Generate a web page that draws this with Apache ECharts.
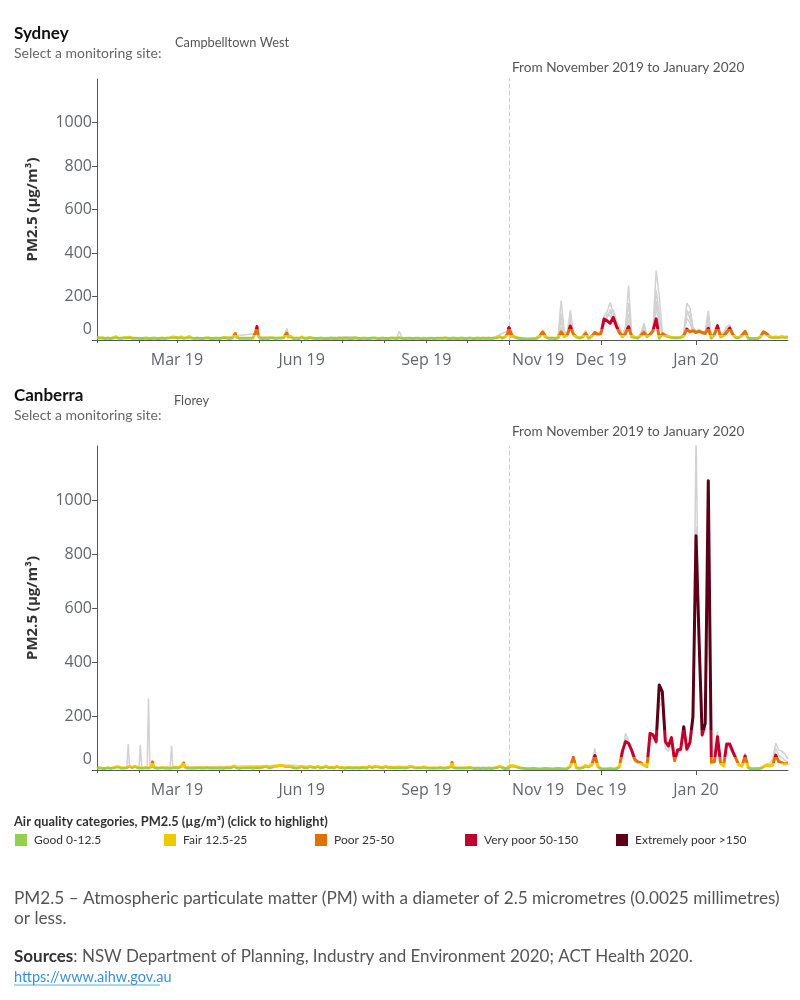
<!DOCTYPE html>
<html>
<head>
<meta charset="utf-8">
<title>PM2.5 Sydney and Canberra</title>
<script src="https://cdn.jsdelivr.net/npm/echarts@6/dist/echarts.min.js"></script>
<style>
  html, body { margin: 0; padding: 0; background: #fff; }
  #chart { width: 800px; height: 1000px; }
</style>
</head>
<body>
<div id="chart"></div>
<script>
// daily PM2.5 (ug/m3), 1 Jan 2019 - 31 Jan 2020
var startDate = '2019-01-01';

var sydneyPM = [
  14,13,9,14,10, 8,7,8,9,8, 7,9,10,11,15, 9,8,7,8,9, 11,15,10,14,13, 9,8,7,8,9, 8,
  8,7,6,7,8, 9,8,7,6,7, 8,9,8,7,6, 7,8,9,8,7, 8,9,10,11,9, 14,15,13,
  11,9,10,14,9, 8,9,11,14,16, 12,9,8,7,8, 9,8,7,6,7, 8,9,13,10,8, 7,6,7,8,9, 8,
  7,8,9,10,12, 15,9,8,7,8, 10,18,30,14,9, 8,7,8,9,8, 7,8,9,8,7, 9,14,35,62,22,
  10,8,7,8,9, 8,7,9,11,15, 9,8,7,8,9, 8,9,10,12,20, 32,14,9,16,8, 7,8,9,8,7, 8,
  14,9,8,7,8, 9,12,15,9,8, 7,6,7,8,9, 8,7,6,7,8, 7,8,9,8,7, 6,7,8,9,8,
  7,8,9,10,8, 7,6,7,8,9, 10,8,7,6,7, 8,9,8,7,6, 7,8,9,10,9, 8,7,6,7,8, 9,
  8,7,6,7,8, 9,10,9,8,7, 8,11,10,8,7, 6,7,8,9,8, 7,6,7,8,9, 8,7,6,7,8, 7,
  6,7,8,9,8, 7,6,7,8,9, 8,7,8,9,10, 8,7,6,7,8, 9,8,7,6,7, 8,9,8,7,8,
  7,8,9,8,7, 6,7,8,9,8, 7,8,9,8,7, 8,9,8,7,8, 9,10,11,12,16, 11,9,10,14,20, 28,
  56,20,14,9,7, 6,5,6,5,8, 18,38,14,8,9, 7,10,38,16,22, 64,26,15,9,14, 30,8,18,35,24,
  30,97,88,77,104, 65,35,15,30,61, 15,12,9,20,35, 15,25,43,97,9, 28,20,15,12,10, 10,11,20,50,38, 43,
  35,40,35,30,54, 9,25,66,15,20, 35,55,25,10,12, 22,40,8,6,7, 6,15,38,30,15, 12,14,12,15,13, 14
];

var canberraPM = [
  6,7,8,7,6, 5,6,7,8,7, 6,7,8,9,11, 15,12,8,7,6, 7,8,9,13,14, 10,9,12,14,13, 9,
  8,7,6,7,8, 9,8,7,9,12, 30,10,8,7,6, 7,14,9,8,7, 9,8,7,6,7, 8,9,10,
  9,8,10,14,12, 26,11,8,7,6, 7,8,7,6,7, 8,9,8,7,6, 7,8,9,8,7, 6,7,8,7,6, 7,
  7,8,7,6,7, 8,9,8,7,8, 10,15,10,8,7, 6,7,8,9,8, 7,8,9,10,8, 7,8,10,15,9,
  8,9,10,12,11, 14,9,8,9,10, 13,15,12,14,16, 18,20,17,15,13, 12,14,16,13,10, 9,8,7,8,9, 10,
  14,9,8,7,8, 12,14,15,10,8, 9,11,14,9,8, 9,10,8,14,13, 9,8,10,11,8, 13,14,12,9,8,
  9,8,7,8,10, 15,9,8,7,8, 9,8,7,8,9, 10,9,8,7,9, 14,10,9,8,13, 14,12,14,10,9, 8,
  13,14,12,9,13, 10,9,8,7,8, 9,10,14,9,8, 7,8,9,12,13, 14,12,9,8,7, 8,9,8,10,11, 14,
  9,8,7,6,7, 8,7,6,7,8, 9,8,7,6,7, 8,9,8,12,28, 10,8,7,6,7, 8,7,6,7,8,
  8,10,9,8,7, 6,5,6,7,6, 5,6,7,6,5, 6,7,6,5,6, 7,8,9,12,14, 15,10,6,5,7, 6,
  12,16,14,10,7, 6,5,5,6,5, 4,5,6,5,4, 5,6,5,4,5, 14,46,8,6,9, 15,12,18,54,12,
  5,4,4,5,4, 5,12,70,105,99, 74,40,30,27,18, 12,136,130,105,315, 290,105,89,120,35, 74,77,160,77,101, 198,
  868,480,130,173,1071, 25,31,123,25,15, 96,96,68,43,18, 15,52,10,4,5, 5,6,12,18,15, 18,55,31,27,22, 25
];

// other monitoring sites (grey), Nov 2019 - Jan 2020
var greyStart = '2019-11-01';
var sydneyOtherA = [
  45,18,12,8,6, 6,5,6,7,10, 22,35,15,9,10, 8,14,181,40,30, 138,30,14,10,18, 45,12,20,40,30,
  40,110,130,173,120, 70,40,20,60,250, 30,15,10,30,77, 20,30,60,319,204, 40,25,20,15,12, 14,16,30,169,150, 60,
  40,50,35,40,135, 20,30,70,25,35, 60,70,30,15,14, 25,45,12,8,9, 8,18,40,30,18, 14,16,14,18,15, 16
];
var sydneyOtherB = [
  30,15,10,7,6, 5,5,6,6,9, 15,30,12,8,9, 7,12,90,30,25, 100,25,12,9,15, 35,10,15,35,25,
  35,90,100,140,90, 60,35,18,45,120, 25,12,9,25,60, 18,25,50,180,90, 35,22,18,13,11, 12,14,25,138,100, 50,
  35,45,30,35,90, 15,25,60,20,30, 50,60,25,12,12, 20,40,10,7,8, 7,15,35,25,15, 12,14,12,15,13, 14
];
var sydneyOtherC = [
  25,12,8,6,5, 4,4,5,5,7, 12,25,10,7,8, 6,10,60,25,20, 80,20,10,8,12, 28,8,12,28,20,
  25,70,120,110,80, 50,28,14,35,90, 18,10,8,20,50, 14,20,45,150,60, 30,18,15,11,9, 10,12,20,100,80, 40,
  30,40,25,30,70, 12,20,50,16,25, 40,50,20,10,10, 16,32,8,6,7, 6,12,30,20,12, 10,12,10,12,11, 12
];
var sydneyOtherD = [
  35,14,10,7,6, 5,5,5,6,8, 14,28,11,8,9, 7,11,120,35,22, 110,22,11,9,14, 38,9,16,30,22,
  30,80,110,120,140, 90,60,25,50,170, 22,12,9,22,65, 16,22,40,230,120, 35,20,16,12,10, 11,13,22,120,130, 45,
  32,42,28,32,110, 14,22,55,18,28, 45,55,22,11,11, 18,36,9,7,8, 7,14,32,22,14, 11,13,11,14,12, 13
];
var canberraOtherA = [
  10,14,12,8,6, 5,5,5,6,5, 4,5,6,5,4, 5,6,5,4,6, 18,40,10,8,12, 20,15,30,80,20,
  6,5,5,6,5, 6,20,60,136,110, 60,30,25,22,15, 15,110,120,95,235, 250,80,70,95,30, 60,70,140,70,90, 170,
  1240,420,140,160,700, 30,40,142,30,18, 90,85,60,40,20, 18,62,12,5,6, 6,7,14,22,25, 40,99,74,70,60, 40
];
var canberraOtherB = [
  11,15,13,9,7, 6,5,5,6,5, 5,5,6,5,4, 5,6,5,5,6, 16,42,9,7,10, 17,13,22,60,14,
  5,5,5,5,5, 6,16,55,120,100, 65,35,28,24,16, 14,120,125,100,270, 260,95,80,110,32, 68,72,150,72,95, 185,
  900,450,120,150,850, 28,35,130,28,16, 92,90,64,42,20, 16,56,11,5,6, 6,7,13,20,18, 25,80,55,45,35, 30
];
// other sites before November: only the days that stand out
var sydneyOtherEarly = [
  ['2019-01-01', 10], ['2019-02-01', 9], ['2019-03-01', 10], ['2019-04-01', 9], ['2019-04-28', 30],
  ['2019-04-29', 50], ['2019-04-30', 15], ['2019-05-18', 10], ['2019-05-20', 35], ['2019-05-21', 54],
  ['2019-05-22', 30], ['2019-05-23', 38], ['2019-05-24', 12], ['2019-06-15', 10], ['2019-07-10', 15],
  ['2019-07-12', 9], ['2019-08-10', 10], ['2019-08-12', 40], ['2019-08-14', 12], ['2019-09-15', 9],
  ['2019-10-20', 10], ['2019-11-01', 45]
];
var canberraOtherEarly = [
  ['2019-01-01', 8], ['2019-01-23', 9], ['2019-01-24', 96], ['2019-01-25', 10], ['2019-02-01', 9],
  ['2019-02-02', 93], ['2019-02-03', 9], ['2019-02-07', 8], ['2019-02-08', 265], ['2019-02-09', 10],
  ['2019-02-24', 9], ['2019-02-25', 91], ['2019-02-26', 10], ['2019-05-25', 18], ['2019-06-20', 9],
  ['2019-08-20', 14], ['2019-08-23', 8], ['2019-11-01', 10]
];

var monthTicksEarly = ['2019-01-01', '2019-02-01', '2019-03-01', '2019-04-01', '2019-05-01', '2019-06-01',
  '2019-07-01', '2019-08-01', '2019-09-01', '2019-10-01', '2019-11-01'];
var monthLabelsEarly = ['2019-03-01', '2019-06-01', '2019-09-01'];
var monthTicksLate = ['2019-11-01', '2019-12-01', '2020-01-01'];
var monthNames = { '2019-03-01': 'Mar 19', '2019-06-01': 'Jun 19', '2019-09-01': 'Sep 19',
  '2019-11-01': 'Nov 19', '2019-12-01': 'Dec 19', '2020-01-01': 'Jan 20' };
var yTicks = [0, 200, 400, 600, 800, 1000];

var catNames = ['Good 0-12.5', 'Fair 12.5-25', 'Poor 25-50', 'Very poor 50-150', 'Extremely poor >150'];
var catBreaks = [0, 12.5, 25, 50, 150];
var catColors = ['#92d050', '#eec900', '#e27200', '#c3002c', '#5c0018'];

var dayOf = function (s) {
    var p = s.split('-');
    return Math.round((Date.UTC(+p[0], p[1] - 1, +p[2]) - Date.UTC(2019, 0, 1)) / 864e5);
};
var daily = function (vals, from) {
    var d0 = dayOf(from);
    return vals.map(function (v, i) { return [d0 + i, v]; });
};
var sparse = function (pairs) {
    return pairs.map(function (p) { return [dayOf(p[0]), p[1]]; });
};
var labelOf = function (v) {
    for (var k in monthNames) { if (dayOf(k) === v) return monthNames[k]; }
    return '';
};

var tickFont = { fontFamily: 'Open Sans', fontSize: 16, color: '#62666d' };
var splitDay = dayOf('2019-11-01');
var endDay = dayOf('2020-01-31');

var panels = [
    { top: 79, height: 261 },
    { top: 446, height: 324 }
];

var grids = [], xAxes = [], yAxes = [], series = [];
panels.forEach(function (p, i) {
    grids.push({ left: 97, width: 412, top: p.top, height: p.height, outerBoundsMode: 'none' });
    grids.push({ left: 509, width: 279, top: p.top, height: p.height, outerBoundsMode: 'none' });

    xAxes.push({
        gridIndex: 2 * i, type: 'value', min: 0, max: splitDay,
        axisLine: { lineStyle: { color: '#555', width: 1 } },
        axisTick: { length: 3, lineStyle: { color: '#555' }, customValues: monthTicksEarly.map(dayOf) },
        axisLabel: Object.assign({ margin: 12, customValues: monthLabelsEarly.map(dayOf), formatter: labelOf }, tickFont),
        splitLine: { show: false }
    });
    xAxes.push({
        gridIndex: 2 * i + 1, type: 'value', min: splitDay, max: endDay,
        axisLine: { lineStyle: { color: '#555', width: 1 } },
        axisTick: { length: 5, lineStyle: { color: '#555' }, customValues: monthTicksLate.map(dayOf) },
        axisLabel: Object.assign({
            margin: 12, customValues: monthTicksLate.map(dayOf),
            formatter: function (v) {
                return v === splitDay ? '{n|' + labelOf(v) + '}' : labelOf(v);
            },
            rich: { n: Object.assign({ padding: [0, 0, 0, 58] }, tickFont) }
        }, tickFont),
        splitLine: { show: false }
    });

    yAxes.push({
        gridIndex: 2 * i, type: 'value', min: 0, max: 1200,
        name: 'PM2.5 (µg/m³)', nameLocation: 'middle', nameRotate: 90, nameGap: 57,
        nameTextStyle: { fontFamily: 'Open Sans', fontWeight: 'bold', fontSize: 15, color: '#333' },
        axisLine: { show: true, lineStyle: { color: '#555', width: 1 } },
        axisTick: { show: true, length: 5, lineStyle: { color: '#555' }, customValues: yTicks },
        axisLabel: Object.assign({
            margin: 5, customValues: yTicks,
            formatter: function (v) { return v === 0 ? '{z|0}' : String(v); },
            rich: { z: Object.assign({ padding: [0, 0, 22, 0] }, tickFont) }
        }, tickFont),
        splitLine: { show: false }
    });
    yAxes.push({
        gridIndex: 2 * i + 1, type: 'value', min: 0, max: 1200,
        axisLine: { show: true, lineStyle: { color: '#cccccc', width: 1, type: [4, 3] } },
        axisTick: { show: false }, axisLabel: { show: false }, splitLine: { show: false }
    });
});

var greyLine = function (data, xi) {
    return {
        type: 'line', xAxisIndex: xi, yAxisIndex: xi, data: data, symbol: 'none', silent: true,
        lineStyle: { color: '#d2d2d2', width: 1.5 }, z: 1
    };
};
var mainLine = function (data, xi) {
    return {
        type: 'line', xAxisIndex: xi, yAxisIndex: xi, data: data, symbol: 'none',
        lineStyle: { width: 3, join: 'round' }, z: 3
    };
};

series.push(greyLine(sparse(sydneyOtherEarly), 0));
series.push(greyLine(daily(sydneyOtherA, greyStart), 1));
series.push(greyLine(daily(sydneyOtherB, greyStart), 1));
series.push(greyLine(daily(sydneyOtherC, greyStart), 1));
series.push(greyLine(daily(sydneyOtherD, greyStart), 1));
series.push(mainLine(daily(sydneyPM, startDate), 0));
series.push(mainLine(daily(sydneyPM, startDate), 1));
series.push(greyLine(sparse(canberraOtherEarly), 2));
series.push(greyLine(daily(canberraOtherA, greyStart), 3));
series.push(greyLine(daily(canberraOtherB, greyStart), 3));
series.push(mainLine(daily(canberraPM, startDate), 2));
series.push(mainLine(daily(canberraPM, startDate), 3));

var pieces = catColors.map(function (c, i) {
    var pc = { gte: catBreaks[i], color: c };
    if (i < catBreaks.length - 1) pc.lt = catBreaks[i + 1];
    if (i === 0) pc.gte = -1;
    return pc;
});

// texts and legend
var txt = function (x, y, text, size, color, weight) {
    return {
        type: 'text', x: x, y: y, silent: true,
        style: {
            text: text, fill: color || '#555', fontSize: size, fontWeight: weight || 'normal',
            fontFamily: 'Lato', verticalAlign: 'middle'
        }
    };
};
var graphics = [
    txt(14, 34, 'Sydney', 17, '#111', 'bold'),
    txt(14, 53, 'Select a monitoring site:', 14, '#666'),
    txt(175, 43, 'Campbelltown West', 12.8, '#555'),
    txt(512, 68, 'From November 2019 to January 2020', 13.6, '#555'),
    txt(14, 396, 'Canberra', 17, '#111', 'bold'),
    txt(14, 415, 'Select a monitoring site:', 14, '#666'),
    txt(174, 401, 'Florey', 12.8, '#555'),
    txt(512, 432, 'From November 2019 to January 2020', 13.6, '#555'),
    txt(14, 822, 'Air quality categories, PM2.5 (µg/m³) (click to highlight)', 12.8, '#333', 'bold'),
    txt(14, 898, 'PM2.5 – Atmospheric particulate matter (PM) with a diameter of 2.5 micrometres (0.0025 millimetres)', 17.2, '#555'),
    txt(14, 918, 'or less.', 17.2, '#555'),
    {
        type: 'text', x: 14, y: 957, silent: true,
        style: {
            text: '{b|Sources}: NSW Department of Planning, Industry and Environment 2020; ACT Health 2020.',
            fill: '#555', fontSize: 17, fontFamily: 'Lato', verticalAlign: 'middle',
            rich: { b: { fontWeight: 'bold', fill: '#333', fontSize: 17, fontFamily: 'Lato' } }
        }
    },
    txt(14, 977, 'https://www.aihw.gov.au', 14.5, '#3d8fd1'),
    { type: 'line', silent: true, shape: { x1: 14, y1: 985, x2: 160, y2: 985 }, style: { stroke: '#3d8fd1', lineWidth: 0.8 } }
];
var legendX = [15, 164, 315, 465, 616];
catNames.forEach(function (n, i) {
    graphics.push({ type: 'rect', silent: true, shape: { x: legendX[i], y: 834, width: 12, height: 12 }, style: { fill: catColors[i] } });
    graphics.push(txt(legendX[i] + 19, 840, n, 12, '#333'));
});

var chart = echarts.init(document.getElementById('chart'), null, { renderer: 'canvas' });
chart.setOption({
    animation: false,
    backgroundColor: '#fff',
    grid: grids,
    xAxis: xAxes,
    yAxis: yAxes,
    visualMap: {
        show: false, type: 'piecewise', dimension: 1,
        seriesIndex: [5, 6, 10, 11], pieces: pieces
    },
    graphic: graphics,
    series: series
});
</script>
</body>
</html>
